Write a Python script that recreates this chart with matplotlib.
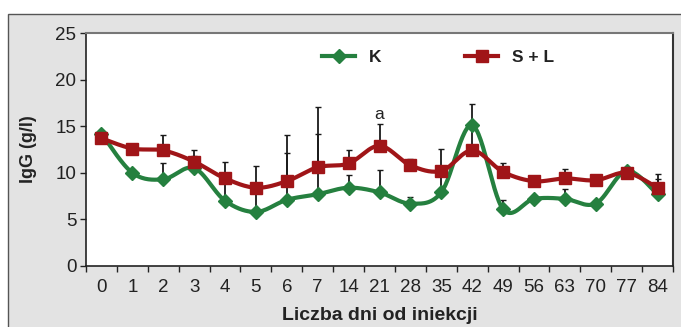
import numpy as np
import matplotlib
matplotlib.use("Agg")
import matplotlib.pyplot as plt
from matplotlib.patches import Rectangle
from matplotlib.lines import Line2D

days = ["0", "1", "2", "3", "4", "5", "6", "7", "14", "21", "28", "35", "42", "49", "56", "63", "70", "77", "84"]
k_vals = [14.2, 10.0, 9.3, 10.5, 7.0, 5.8, 7.1, 7.7, 8.4, 7.9, 6.7, 7.9, 15.1, 6.1, 7.2, 7.2, 6.7, 10.2, 7.7]
sl_vals = [13.7, 12.6, 12.4, 11.2, 9.4, 8.4, 9.1, 10.6, 11.0, 12.9, 10.8, 10.2, 12.4, 10.1, 9.1, 9.4, 9.2, 10.0, 8.4]
# upper ends of error bars (None = no bar)
k_err_top = [None, None, 11.1, 11.8, 9.0, 8.2, 12.1, 14.2, 9.8, 10.3, 7.4, 10.3, 17.4, 7.1, None, 8.3, None, None, 9.3]
sl_err_top = [None, None, 14.1, 12.5, 11.2, 10.7, 14.1, 17.1, 12.5, 15.2, 11.5, 12.6, 14.8, 11.1, None, 10.4, None, None, 9.9]

GREEN = "#25803f"
RED = "#a01518"
FONT = ["Liberation Sans Narrow", "Liberation Sans", "DejaVu Sans"]
FONT_B = ["Liberation Sans", "DejaVu Sans"]


def catmull_rom(x, y, n=30):
    x = np.asarray(x, float)
    y = np.asarray(y, float)
    px = np.concatenate([[x[0]], x, [x[-1]]])
    py = np.concatenate([[y[0]], y, [y[-1]]])
    xs, ys = [], []
    t = np.linspace(0, 1, n)
    for i in range(1, len(px) - 2):
        for arr, out in ((px, xs), (py, ys)):
            p0, p1, p2, p3 = arr[i - 1], arr[i], arr[i + 1], arr[i + 2]
            out.append(0.5 * ((2 * p1) + (-p0 + p2) * t + (2 * p0 - 5 * p1 + 4 * p2 - p3) * t ** 2
                              + (-p0 + 3 * p1 - 3 * p2 + p3) * t ** 3))
    return np.concatenate(xs), np.concatenate(ys)


W, H = 681, 327
fig = plt.figure(figsize=(W / 100, H / 100), dpi=100)
fig.patch.set_facecolor("white")
fig.patches.append(Rectangle((8 / W, -0.05), 1.1, (H - 14) / H + 0.05, transform=fig.transFigure,
                             facecolor="#e3e3e3", edgecolor="#555555", lw=1.0, zorder=-10))

ax = fig.add_axes([86 / W, (H - 266) / H, (673 - 86) / W, (266 - 33) / H])
ax.set_zorder(5)
ax.set_facecolor("white")
x = np.arange(len(days))

# error bars
for vals, tops in ((k_vals, k_err_top), (sl_vals, sl_err_top)):
    xi = [i for i, t in enumerate(tops) if t is not None]
    yi = [vals[i] for i in xi]
    up = [tops[i] - vals[i] for i in xi]
    ax.errorbar(xi, yi, yerr=[np.zeros(len(xi)), up], fmt="none", ecolor="#1a1a1a",
                elinewidth=1.3, capsize=2.0, capthick=1.0, zorder=2)

sx, sy = catmull_rom(x, k_vals)
ax.plot(sx, sy, color=GREEN, lw=3.0, zorder=3, solid_capstyle="round")
ax.plot(x, k_vals, ls="none", marker="D", ms=7, color=GREEN, zorder=4)
sx, sy = catmull_rom(x, sl_vals)
ax.plot(sx, sy, color=RED, lw=3.0, zorder=5, solid_capstyle="round")
ax.plot(x, sl_vals, ls="none", marker="s", ms=9, color=RED, zorder=6)

ax.text(9, 15.5, "a", ha="center", va="bottom", fontsize=12.5, family=FONT, color="#222222")

ax.set_xlim(-0.5, len(days) - 0.5)
ax.set_ylim(0, 25)
ax.set_yticks([0, 5, 10, 15, 20, 25])
ax.set_xticks(x)
ax.set_xticklabels(days)
ax.set_xticks(np.arange(-0.5, len(days), 1.0), minor=True)
ax.tick_params(axis="x", which="major", length=0, pad=9, labelsize=13.5, colors="#222222")
ax.tick_params(axis="x", which="minor", length=4, width=1, direction="out", color="#222222")
ax.tick_params(axis="y", length=4, width=1, direction="out", pad=3, labelsize=13.5, colors="#222222")
for lab in ax.get_xticklabels() + ax.get_yticklabels():
    lab.set_family(FONT)

for s in ("left", "bottom"):
    ax.spines[s].set_color("#222222")
    ax.spines[s].set_linewidth(1.2)
ax.spines["top"].set_color("#777777")
ax.spines["top"].set_linewidth(1.5)
ax.spines["right"].set_color("#333333")
ax.spines["right"].set_linewidth(1.5)

ax.set_ylabel("IgG (g/l)", fontsize=13, fontweight="bold", family=FONT_B, labelpad=13, color="#222222")
ax.set_xlabel("Liczba dni od iniekcji", fontsize=14, fontweight="bold", family=FONT_B, labelpad=8,
              color="#222222")

handles = [Line2D([], [], color=GREEN, lw=3, marker="D", ms=7),
           Line2D([], [], color=RED, lw=3, marker="s", ms=9)]
leg = ax.legend(handles, ["K", "S + L"], loc="upper center", bbox_to_anchor=(0.60, 0.993), ncol=2,
                frameon=False, columnspacing=4.8, handlelength=1.9, handletextpad=0.8,
                prop={"family": FONT_B, "weight": "bold", "size": 12.5})
for t in leg.get_texts():
    t.set_color("#222222")

fig.savefig("out.png", dpi=100)
